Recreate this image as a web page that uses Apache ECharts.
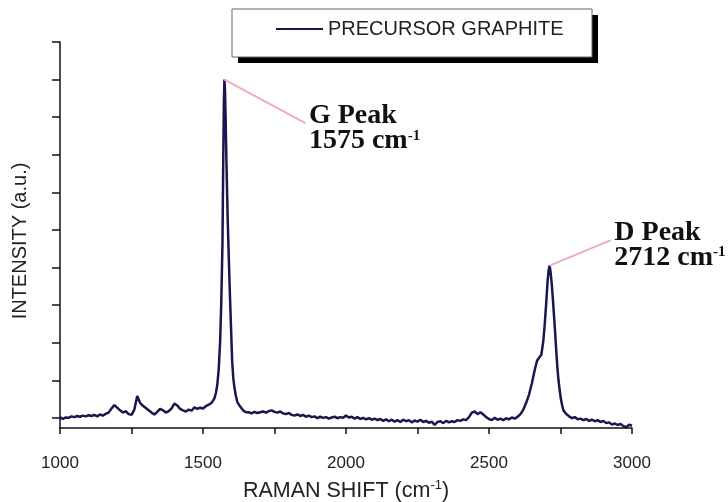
<!DOCTYPE html>
<html>
<head>
<meta charset="utf-8">
<script src="https://cdn.jsdelivr.net/npm/echarts@6/dist/echarts.min.js"></script>
<style>
  html, body { margin: 0; padding: 0; background: #ffffff; }
  #chart { width: 728px; height: 502px; }
</style>
</head>
<body>
<div id="chart"></div>
<script>
// Raman spectrum of the precursor graphite (shift in cm-1, intensity in arbitrary units)
const ramanShift = [
  1000, 1010, 1020, 1030, 1040, 1050, 1060, 1070, 1080, 1090,
  1100, 1110, 1120, 1130, 1140, 1150, 1160, 1170, 1180, 1190,
  1200, 1210, 1220, 1230, 1240, 1250, 1260, 1270, 1280, 1290,
  1300, 1310, 1320, 1330, 1340, 1350, 1360, 1370, 1380, 1390,
  1400, 1410, 1420, 1430, 1440, 1450, 1460, 1470, 1480, 1490,
  1500, 1510, 1520, 1530, 1540, 1545, 1550, 1555, 1560, 1564,
  1568, 1571, 1573, 1575, 1577, 1579, 1582, 1586, 1590, 1594,
  1598, 1602, 1606, 1610, 1615, 1620, 1630, 1640, 1650, 1660,
  1670, 1680, 1690, 1700, 1710, 1720, 1730, 1740, 1750, 1760,
  1770, 1780, 1790, 1800, 1810, 1820, 1830, 1840, 1850, 1860,
  1870, 1880, 1890, 1900, 1910, 1920, 1930, 1940, 1950, 1960,
  1970, 1980, 1990, 2000, 2010, 2020, 2030, 2040, 2050, 2060,
  2070, 2080, 2090, 2100, 2110, 2120, 2130, 2140, 2150, 2160,
  2170, 2180, 2190, 2200, 2210, 2220, 2230, 2240, 2250, 2260,
  2270, 2280, 2290, 2300, 2310, 2320, 2330, 2340, 2350, 2360,
  2370, 2380, 2390, 2400, 2410, 2420, 2430, 2440, 2450, 2460,
  2470, 2480, 2490, 2500, 2510, 2520, 2530, 2540, 2550, 2560,
  2570, 2580, 2590, 2600, 2610, 2620, 2630, 2640, 2650, 2660,
  2668, 2675, 2683, 2690, 2695, 2700, 2705, 2709, 2712, 2715,
  2719, 2723, 2727, 2731, 2735, 2739, 2743, 2747, 2751, 2755,
  2760, 2770, 2780, 2790, 2800, 2810, 2820, 2830, 2840, 2850,
  2860, 2870, 2880, 2890, 2900, 2910, 2920, 2930, 2940, 2950,
  2960, 2970, 2980, 2990, 3000
];
const intensity = [
  0.02, -0.03, 0.01, 0.00, 0.04, 0.02, 0.05, 0.03, 0.06, 0.04,
  0.07, 0.05, 0.08, 0.04, 0.09, 0.06, 0.11, 0.14, 0.25, 0.34,
  0.27, 0.20, 0.14, 0.18, 0.10, 0.08, 0.22, 0.58, 0.40, 0.32,
  0.26, 0.20, 0.14, 0.09, 0.16, 0.24, 0.20, 0.14, 0.18, 0.25,
  0.38, 0.33, 0.24, 0.20, 0.17, 0.22, 0.19, 0.28, 0.24, 0.27,
  0.25, 0.31, 0.35, 0.40, 0.52, 0.66, 0.88, 1.30, 2.05, 3.10,
  4.60, 7.00, 8.40, 9.00, 8.70, 8.00, 6.80, 5.40, 4.30, 3.30,
  2.40, 1.50, 1.05, 0.80, 0.58, 0.42, 0.30, 0.20, 0.15, 0.15,
  0.12, 0.16, 0.13, 0.15, 0.17, 0.14, 0.18, 0.20, 0.16, 0.14,
  0.17, 0.12, 0.10, 0.13, 0.08, 0.06, 0.09, 0.05, 0.08, 0.03,
  0.06, 0.02, 0.04, -0.01, 0.03, 0.00, 0.02, -0.02, 0.01, 0.03,
  -0.01, 0.02, 0.00, 0.06, 0.01, 0.03, -0.02, 0.02, -0.03, 0.00,
  -0.04, -0.01, -0.05, -0.02, -0.06, -0.03, -0.08, -0.04, -0.09, -0.05,
  -0.10, -0.06, -0.11, -0.05, -0.09, -0.06, -0.12, -0.07, -0.10, -0.05,
  -0.11, -0.08, -0.13, -0.10, -0.19, -0.11, -0.09, -0.14, -0.08, -0.12,
  -0.09, -0.11, -0.06, -0.08, -0.04, -0.06, 0.02, 0.14, 0.17, 0.10,
  0.15, 0.09, 0.02, -0.03, -0.06, 0.00, -0.05, -0.02, -0.06, -0.01,
  -0.04, 0.01, -0.02, 0.03, 0.10, 0.22, 0.40, 0.62, 0.92, 1.28,
  1.52, 1.60, 1.68, 2.05, 2.50, 3.05, 3.65, 3.95, 4.05, 3.90,
  3.60, 3.20, 2.75, 2.30, 1.80, 1.35, 1.00, 0.74, 0.52, 0.36,
  0.20, 0.10, 0.04, -0.01, 0.02, -0.04, -0.02, -0.06, -0.03, -0.08,
  -0.05, -0.09, -0.06, -0.11, -0.08, -0.14, -0.12, -0.18, -0.15, -0.19,
  -0.16, -0.22, -0.25, -0.18, -0.21
];

// Axis ticks
const xTickValues = [1000, 1250, 1500, 1750, 2000, 2250, 2500, 2750, 3000];
const yTickValues = [0, 1, 2, 3, 4, 5, 6, 7, 8, 9, 10];

// Annotated bands
const peakNames = ['G Peak', 'D Peak'];
const peakShift = [1575, 2712];

const seriesName = 'PRECURSOR GRAPHITE';

const points = ramanShift.map((x, i) => [x, intensity[i]]);
const peaks = peakShift.map((x, i) => ({
  name: peakNames[i],
  x: x,
  y: intensity[ramanShift.indexOf(x)]
}));

// Where each callout line ends (data coordinates)
const calloutEnds = [[1858, 7.84], [2926, 4.73]];

const calloutRich = {
  t: { fontFamily: 'Liberation Serif', fontWeight: 'bold', fontSize: 28, color: '#111111', lineHeight: 25 },
  s: { fontFamily: 'Liberation Serif', fontWeight: 'bold', fontSize: 15, color: '#111111', lineHeight: 25, verticalAlign: 'top' }
};

const chart = echarts.init(document.getElementById('chart'), null, { renderer: 'canvas' });

chart.setOption({
  animation: false,
  backgroundColor: '#ffffff',
  grid: { left: 60, right: 96, top: 42, bottom: 74, containLabel: false, outerBoundsMode: 'none' },
  graphic: [
    { type: 'rect', z: 1, shape: { x: 238, y: 15, width: 360, height: 48 }, style: { fill: '#000000' } },
    { type: 'rect', z: 2, shape: { x: 232, y: 9, width: 360, height: 48 }, style: { fill: '#ffffff', stroke: '#666666', lineWidth: 1 } }
  ],
  legend: {
    data: [seriesName],
    left: 276,
    top: 18,
    padding: 0,
    z: 10,
    icon: 'rect',
    itemWidth: 47,
    itemHeight: 2,
    itemGap: 5,
    textStyle: { fontFamily: 'Liberation Sans', fontSize: 20, color: '#222222', lineHeight: 22 }
  },
  xAxis: {
    type: 'value',
    min: 1000,
    max: 3000,
    interval: 500,
    name: '{n|RAMAN SHIFT (cm}{s|-1}{n|)}',
    nameLocation: 'middle',
    nameGap: 51,
    nameTextStyle: {
      rich: {
        n: { fontFamily: 'Liberation Sans', fontSize: 21.5, color: '#222222', lineHeight: 24 },
        s: { fontFamily: 'Liberation Sans', fontSize: 13, color: '#222222', lineHeight: 24, verticalAlign: 'top' }
      }
    },
    axisLine: { onZero: false, lineStyle: { color: '#111111', width: 1.5 } },
    axisTick: { customValues: xTickValues, length: 6, lineStyle: { color: '#111111', width: 1.5 } },
    axisLabel: {
      margin: 27,
      fontFamily: 'Liberation Sans',
      fontSize: 17,
      color: '#222222',
      formatter: (v) => String(v)
    },
    splitLine: { show: false }
  },
  yAxis: {
    type: 'value',
    min: -0.27,
    max: 10,
    name: 'INTENSITY (a.u.)',
    nameLocation: 'middle',
    nameRotate: 90,
    nameGap: 30,
    nameTextStyle: { fontFamily: 'Liberation Sans', fontSize: 20, color: '#222222', padding: [0, 12, 0, 0] },
    axisLine: { onZero: false, lineStyle: { color: '#111111', width: 1.5 } },
    axisTick: { customValues: yTickValues, length: 8, lineStyle: { color: '#111111', width: 1.5 } },
    axisLabel: { show: false },
    splitLine: { show: false }
  },
  series: [{
    name: seriesName,
    type: 'line',
    data: points,
    symbol: 'none',
    color: '#18184f',
    lineStyle: { color: '#18184f', width: 2.5 },
    z: 3,
    markLine: {
      silent: true,
      symbol: ['none', 'none'],
      label: { show: false },
      lineStyle: { color: '#f2a9c4', width: 2, type: 'solid' },
      data: peaks.map((p, i) => [{ coord: [p.x, p.y] }, { coord: calloutEnds[i] }])
    },
    markPoint: {
      silent: true,
      symbol: 'circle',
      symbolSize: 1,
      itemStyle: { color: 'rgba(0,0,0,0)' },
      data: peaks.map((p, i) => ({
        coord: calloutEnds[i],
        label: {
          show: true,
          position: 'right',
          distance: 3,
          offset: [0, 5],
          formatter: '{t|' + p.name + '}\n{t|' + p.x + ' cm}{s|-1}',
          rich: calloutRich
        }
      }))
    }
  }]
});
</script>
</body>
</html>
